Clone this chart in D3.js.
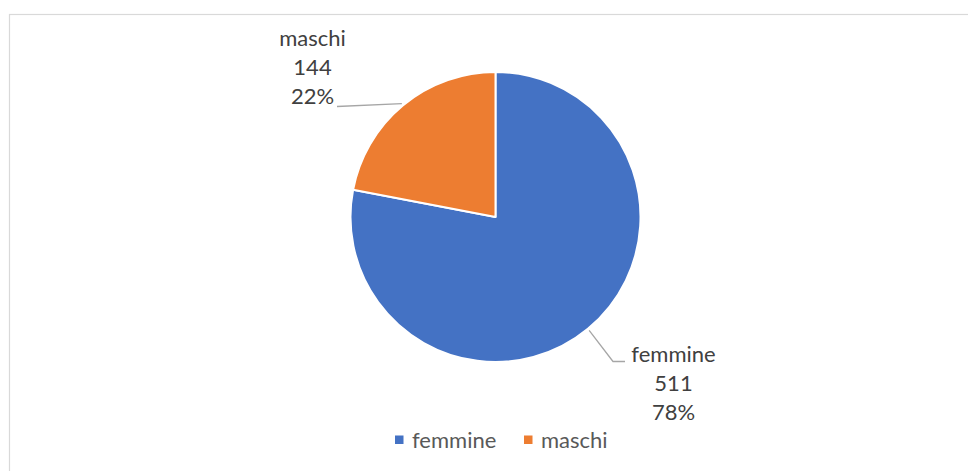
<!DOCTYPE html>
<html>
<head>
<meta charset="utf-8">
<script src="https://cdn.jsdelivr.net/npm/d3@7"></script>
<style>
  html, body { margin: 0; padding: 0; background: #fff; }
  svg { display: block; font-family: Lato, "Open Sans", sans-serif; }
</style>
</head>
<body>
<div id="chart"></div>
<script>
// data
const categories = ["femmine", "maschi"];
const values = [511, 144];
const percentLabels = ["78%", "22%"];
const colors = ["#4472c4", "#ed7d31"];

const width = 968, height = 471;
const cx = 495.5, cy = 217, radius = 145;

const svg = d3.select("#chart").append("svg")
  .attr("width", width)
  .attr("height", height);

// chart area border (runs off the right and bottom edges)
svg.append("rect")
  .attr("x", 9.5).attr("y", 14.5)
  .attr("width", 1000).attr("height", 500)
  .attr("fill", "none")
  .attr("stroke", "#d9d9d9")
  .attr("stroke-width", 1.2);

const data = categories.map((c, i) => ({ name: c, value: values[i], pct: percentLabels[i], color: colors[i] }));

const pie = d3.pie().sort(null).value(d => d.value);
const arc = d3.arc().innerRadius(0).outerRadius(radius);
const outer = d3.arc().innerRadius(radius + 2).outerRadius(radius + 2);

const g = svg.append("g").attr("transform", `translate(${cx},${cy})`);
const arcs = pie(data);

g.selectAll("path.slice")
  .data(arcs)
  .enter()
  .append("path")
  .attr("class", "slice")
  .attr("d", arc)
  .attr("fill", d => d.data.color)
  .attr("stroke", "#fff")
  .attr("stroke-width", 2)
  .attr("stroke-linejoin", "round");

// label layout: text anchor point + leader end (relative to centre)
const labelPos = {
  femmine: { x: 673.5 - cx, y: 362 - cy, line: [[613 - cx, 361.5 - cy], [625 - cx, 361.5 - cy]] },
  maschi: { x: 312.5 - cx, y: 46 - cy, line: [[337 - cx, 106.5 - cy]] }
};

arcs.forEach(d => {
  const p = labelPos[d.data.name];
  const start = outer.centroid(d);
  const pts = [start].concat(p.line);
  g.append("path")
    .attr("d", d3.line()(pts))
    .attr("fill", "none")
    .attr("stroke", "#a6a6a6")
    .attr("stroke-width", 1.3);

  const t = g.append("text")
    .attr("text-anchor", "middle")
    .attr("fill", "#404040")
    .style("font-size", "22px");
  [d.data.name, d.data.value, d.data.pct].forEach((s, i) => {
    t.append("tspan")
      .attr("x", p.x)
      .attr("y", p.y + i * 29)
      .text(s);
  });
});

// legend
const legend = svg.append("g").attr("transform", "translate(0,440)");
const legendX = [395, 524];
data.forEach((d, i) => {
  legend.append("rect")
    .attr("x", legendX[i]).attr("y", -4.5)
    .attr("width", 8.5).attr("height", 8.5)
    .attr("fill", d.color);
  legend.append("text")
    .attr("x", legendX[i] + 17)
    .attr("y", 8)
    .attr("fill", "#595959")
    .style("font-size", "22px")
    .text(d.name);
});
</script>
</body>
</html>
